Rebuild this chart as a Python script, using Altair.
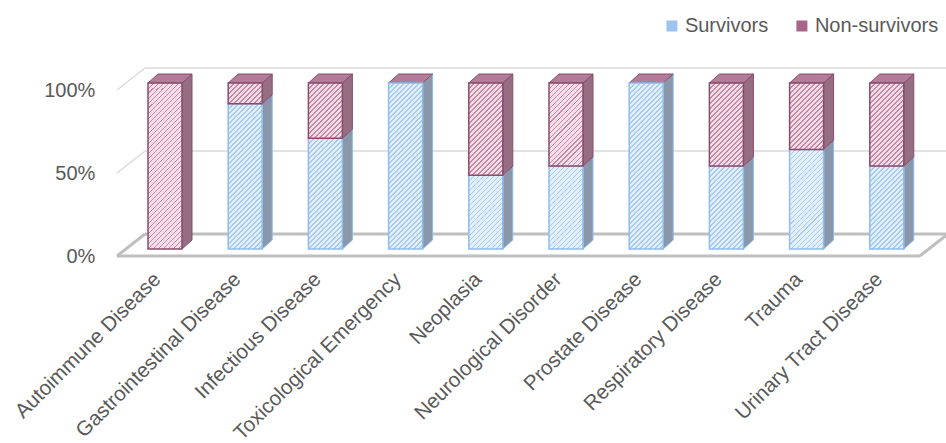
import altair as alt

# ---- data -------------------------------------------------------------
categories = [
    "Autoimmune Disease",
    "Gastrointestinal Disease",
    "Infectious Disease",
    "Toxicological Emergency",
    "Neoplasia",
    "Neurological Disorder",
    "Prostate Disease",
    "Respiratory Disease",
    "Trauma",
    "Urinary Tract Disease",
]
survivors = [0, 87.5, 66.7, 100, 44.4, 50, 100, 50, 60, 50]
non_survivors = [100, 12.5, 33.3, 0, 55.6, 50, 0, 50, 40, 50]
series_names = ["Survivors", "Non-survivors"]
y_ticks = [0, 50, 100]

# ---- geometry / style -------------------------------------------------
PLOT_W, PLOT_H = 802, 166
STEP_PX = PLOT_W / len(categories)
BAR_PX = 34
DEPTH_X_PX, DEPTH_Y_PX = 10, 9
HALF = BAR_PX / 2 / STEP_PX
DX = DEPTH_X_PX / STEP_PX
DY = DEPTH_Y_PX / PLOT_H * 100

FONT = "Liberation Sans"
TEXT = "#595959"

STYLE = {
    "Survivors": dict(bg="#e4effc", line="#a6cbf2", stroke="#8dbcee",
                      side="#8a97aa", legend="#9cc4ef"),
    "Non-survivors": dict(bg="#f6dde7", line="#c48aa4", stroke="#8b4a6b",
                          side="#966e82", legend="#a9648a"),
}
TOP_FILL = "#b27d98"


def hatch(kind, h_px, w_px=BAR_PX, period=5.0, frac=0.38):
    """Diagonal stripe fill expressed as a linear gradient in bbox units."""
    st = STYLE[kind]
    h_px = max(h_px, 1.0)
    span = w_px + h_px
    norm = w_px * w_px + h_px * h_px
    n = span / period
    stops = []
    i = 0
    while i < n:
        a = min(i / n, 1.0)
        b = min((i + frac) / n, 1.0)
        c = min((i + 1) / n, 1.0)
        stops += [
            {"offset": a, "color": st["line"]},
            {"offset": b, "color": st["line"]},
            {"offset": b, "color": st["bg"]},
            {"offset": c, "color": st["bg"]},
        ]
        i += 1
    return {
        "gradient": "linear",
        "x1": 0, "y1": 0,
        "x2": span * w_px / norm, "y2": span * h_px / norm,
        "stops": stops,
    }


# ---- build face records from the values -------------------------------
fronts, sides, tops = [], [], []
for i, (cat, s, n) in enumerate(zip(categories, survivors, non_survivors)):
    cx = i + 0.5
    xl, xr = cx - HALF, cx + HALF
    for kind, y0, y1 in (("Survivors", 0, s), ("Non-survivors", s, s + n)):
        if y1 - y0 <= 0:
            continue
        st = STYLE[kind]
        h_px = (y1 - y0) / 100 * PLOT_H
        fronts.append(dict(cat=cat, kind=kind, x=xl, x2=xr, y=y0, y2=y1,
                           grad=hatch(kind, h_px), edge=st["stroke"]))
        seg = f"{i}-{kind}"
        sides.append(dict(seg=seg, x=xr, y=y0, y2=y1,
                          face=st["side"], edge=st["stroke"]))
        sides.append(dict(seg=seg, x=xr + DX, y=y0 + DY, y2=y1 + DY,
                          face=st["side"], edge=st["stroke"]))
    top = s + n
    tops.append(dict(seg=str(i), y=top, x=xl, x2=xr))
    tops.append(dict(seg=str(i), y=top + DY, x=xl + DX, x2=xr + DX))

# walls and floor of the 3-D box
FRONT_DROP = 7 / PLOT_H * 100
BACK_RISE = 15 / PLOT_H * 100
X_FRONT_L, X_BACK_L = -7.9 / STEP_PX, 20.1 / STEP_PX
X_FRONT_R, X_BACK_R = 795 / STEP_PX, 823 / STEP_PX
floor_lines, grid_lines = [], []
for v in y_ticks:
    target = floor_lines if v == 0 else grid_lines
    target.append(dict(x=X_FRONT_L, y=v - FRONT_DROP,
                       x2=X_BACK_L, y2=v + BACK_RISE))
    target.append(dict(x=X_BACK_L, y=v + BACK_RISE,
                       x2=X_BACK_R + 0.2, y2=v + BACK_RISE))
floor_lines.append(dict(x=X_FRONT_L, y=-FRONT_DROP,
                        x2=X_FRONT_R, y2=-FRONT_DROP))
floor_lines.append(dict(x=X_FRONT_R, y=-FRONT_DROP,
                        x2=X_BACK_R, y2=BACK_RISE))

# ---- scales / axes ----------------------------------------------------
xscale = alt.Scale(domain=[0, len(categories)], nice=False, zero=False)
yscale = alt.Scale(domain=[0, 100], nice=False, zero=False)
names_js = "[" + ",".join(f"'{c}'" for c in categories) + "]"

x_axis = alt.Axis(
    values=[i + 0.5 for i in range(len(categories))],
    labelExpr=f"{names_js}[floor(datum.value)]",
    labelAngle=-45, labelAlign="right", labelBaseline="middle",
    labelPadding=27, labelOffset=-8, labelFlush=False, labelOverlap=False,
    labelBound=False, labelLimit=0, labelFont=FONT, labelFontSize=20.6,
    labelColor=TEXT, ticks=False, domain=False, grid=False, title=None,
)
y_axis = alt.Axis(
    values=y_ticks, labelExpr="datum.value + '%'",
    labelPadding=30, labelOffset=7, labelFont=FONT, labelFontSize=20,
    labelColor=TEXT, ticks=False, domain=False, grid=False, title=None,
)


def X(field):
    return alt.X(field, scale=xscale, axis=x_axis, title=None)


def Y(field):
    return alt.Y(field, scale=yscale, axis=y_axis, title=None)


def wall_layer(rows, color, width):
    return alt.Chart(alt.Data(values=rows)).mark_rule(
        color=color, strokeWidth=width
    ).encode(x=X("x:Q"), y=Y("y:Q"), x2="x2:Q", y2="y2:Q")


# ---- layers -----------------------------------------------------------
grid = wall_layer(grid_lines, "#d9d9d9", 1.3)
floor = wall_layer(floor_lines, "#bfbfbf", 3)

side = alt.Chart(alt.Data(values=sides)).mark_area(
    orient="vertical", strokeWidth=1, interpolate="linear"
).encode(
    x=X("x:Q"),
    y=Y("y:Q"),
    y2="y2:Q",
    detail="seg:N",
    fill=alt.Fill("face:N", scale=None),
    stroke=alt.Stroke("edge:N", scale=None),
)

top = alt.Chart(alt.Data(values=tops)).mark_area(
    orient="horizontal", fill=TOP_FILL, stroke="#8b4a6b", strokeWidth=1
).encode(
    y=Y("y:Q"),
    x=X("x:Q"),
    x2="x2:Q",
    detail="seg:N",
)

front = alt.Chart(alt.Data(values=fronts)).mark_rect(strokeWidth=1.5).encode(
    x=X("x:Q"),
    x2="x2:Q",
    y=Y("y:Q"),
    y2="y2:Q",
    fill=alt.Fill("grad:N", scale=None),
    stroke=alt.Stroke("edge:N", scale=None),
)

# series key
key = alt.Chart(
    alt.Data(values=[{"series": s} for s in series_names])
).mark_square(size=121, opacity=1).encode(
    x=alt.value(-500),
    y=alt.value(-500),
    color=alt.Color(
        "series:N",
        scale=alt.Scale(domain=series_names,
                        range=[STYLE[s]["legend"] for s in series_names]),
        sort=series_names,
        legend=alt.Legend(
            title=None, orient="none", direction="horizontal",
            legendX=537, legendY=-67, padding=0,
            symbolType="square", symbolSize=121, symbolStrokeWidth=0,
            symbolOpacity=1, labelFont=FONT, labelFontSize=20,
            labelColor=TEXT, labelOffset=3, columnPadding=23,
        ),
    ),
)

chart = alt.layer(grid, floor, side, top, front, key).properties(
    width=PLOT_W,
    height=PLOT_H,
    autosize=alt.AutoSizeParams(type="none"),
    padding={"left": 124.9, "top": 83, "right": 19.1, "bottom": 194},
    background="white",
).configure_view(stroke=None)

chart.save("out.html", embed_options={"renderer": "svg", "actions": False})
